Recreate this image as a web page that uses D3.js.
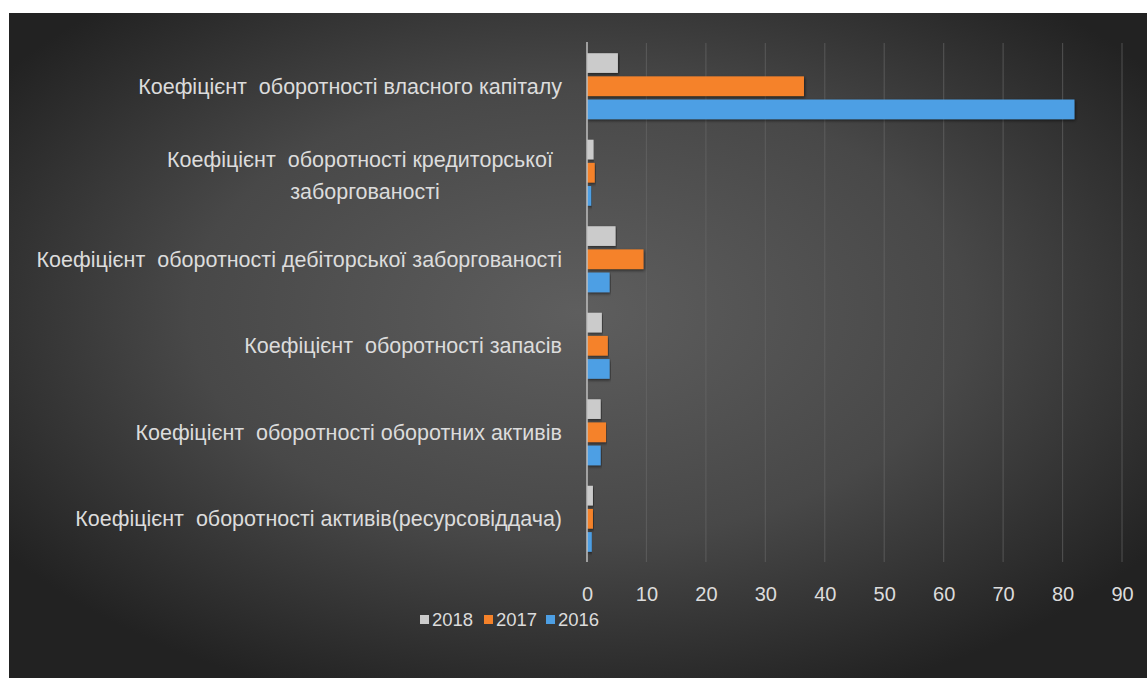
<!DOCTYPE html>
<html>
<head>
<meta charset="utf-8">
<script src="https://cdn.jsdelivr.net/npm/d3@7"></script>
<style>
  html, body { margin: 0; padding: 0; background: #ffffff; }
  svg { display: block; }
</style>
</head>
<body>
<svg id="chart" width="1147" height="678"></svg>
<script>
const categories = [
  ["Коефіцієнт  оборотності власного капіталу"],
  ["Коефіцієнт  оборотності кредиторської", "заборгованості"],
  ["Коефіцієнт  оборотності дебіторської заборгованості"],
  ["Коефіцієнт  оборотності запасів"],
  ["Коефіцієнт  оборотності оборотних активів"],
  ["Коефіцієнт  оборотності активів(ресурсовіддача)"]
];
const seriesNames = ["2018", "2017", "2016"];
const values2018 = [5.2, 1.1, 4.8, 2.5, 2.3, 1.0];
const values2017 = [36.5, 1.3, 9.5, 3.5, 3.2, 1.0];
const values2016 = [82, 0.7, 3.8, 3.8, 2.3, 0.8];
const xTicks = [0, 10, 20, 30, 40, 50, 60, 70, 80, 90];
const colors = ["#cbcbcb", "#f5822a", "#4d9fe4"];

const seriesValues = [values2018, values2017, values2016];
const svg = d3.select("#chart");

// background
const defs = svg.append("defs");
const rg = defs.append("radialGradient").attr("id", "bg")
  .attr("cx", "50%").attr("cy", "45%").attr("r", "62%");
rg.append("stop").attr("offset", "0%").attr("stop-color", "#5e5e5e");
rg.append("stop").attr("offset", "55%").attr("stop-color", "#484848");
rg.append("stop").attr("offset", "100%").attr("stop-color", "#222222");
const flt = defs.append("filter").attr("id", "sh").attr("x", "-5%").attr("y", "-40%").attr("width", "110%").attr("height", "180%");
flt.append("feDropShadow").attr("dx", 1).attr("dy", 1.5).attr("stdDeviation", 1.5)
  .attr("flood-color", "#000").attr("flood-opacity", 0.55);

svg.append("rect").attr("x", 9).attr("y", 13).attr("width", 1147 - 9).attr("height", 678 - 13)
  .attr("fill", "url(#bg)");

const x = d3.scaleLinear().domain([0, 90]).range([587, 1122]);
const y = d3.scaleBand().domain(d3.range(categories.length)).range([43, 562])
  .paddingInner(0.237).paddingOuter(0.118);
const ys = d3.scaleBand().domain(d3.range(seriesNames.length)).range([0, y.bandwidth()]).paddingInner(0.15);

// gridlines
svg.append("g").selectAll("line").data(xTicks.filter(t => t > 0)).join("line")
  .attr("x1", d => x(d)).attr("x2", d => x(d))
  .attr("y1", 43).attr("y2", 562)
  .attr("stroke", "#6a6a6a").attr("stroke-opacity", 0.55).attr("stroke-width", 1.2);

// bars
const groups = svg.append("g").selectAll("g").data(categories).join("g")
  .attr("transform", (d, i) => `translate(0,${y(i)})`);
groups.selectAll("rect").data((d, i) => seriesValues.map((s, k) => ({k, v: s[i]}))).join("rect")
  .attr("x", x(0))
  .attr("y", d => ys(d.k))
  .attr("width", d => x(d.v) - x(0))
  .attr("height", ys.bandwidth())
  .attr("fill", d => colors[d.k])
  .attr("filter", "url(#sh)");

// axis line
svg.append("line").attr("x1", x(0)).attr("x2", x(0)).attr("y1", 42).attr("y2", 562)
  .attr("stroke", "#bfbfbf").attr("stroke-width", 1.5);

// category labels
const lab = svg.append("g").attr("font-family", "Liberation Sans, Arial, sans-serif")
  .attr("font-size", 21.5).attr("fill", "#dcdcdc");
categories.forEach((lines, i) => {
  const cy = y(i) + y.bandwidth() / 2;
  if (lines.length === 1) {
    lab.append("text").attr("x", 562).attr("y", cy).attr("dy", "0.35em")
      .attr("text-anchor", "end").attr("xml:space", "preserve").text(lines[0]);
  } else {
    const cx = 360;
    lines.forEach((l, j) => {
      lab.append("text").attr("x", cx + j * 5).attr("y", cy + (j - 0.5) * 32 + 3).attr("dy", "0.35em")
        .attr("text-anchor", "middle").attr("xml:space", "preserve").text(l);
    });
  }
});

// x tick labels
const xAxis = d3.axisBottom(x).tickValues(xTicks).tickSize(0).tickPadding(0);
const ax = svg.append("g").attr("transform", "translate(0,587)").call(xAxis);
ax.select(".domain").remove();
ax.selectAll("text").attr("font-family", "Liberation Sans, Arial, sans-serif")
  .attr("font-size", 20).attr("fill", "#dcdcdc");

// legend
const legendX = [420, 484, 546];
const leg = svg.append("g").attr("font-family", "Liberation Sans, Arial, sans-serif")
  .attr("font-size", 18.5).attr("fill", "#dcdcdc");
seriesNames.forEach((n, k) => {
  leg.append("rect").attr("x", legendX[k]).attr("y", 615).attr("width", 9).attr("height", 9)
    .attr("fill", colors[k]);
  leg.append("text").attr("x", legendX[k] + 12).attr("y", 620).attr("dy", "0.35em").text(n);
});
</script>
</body>
</html>
